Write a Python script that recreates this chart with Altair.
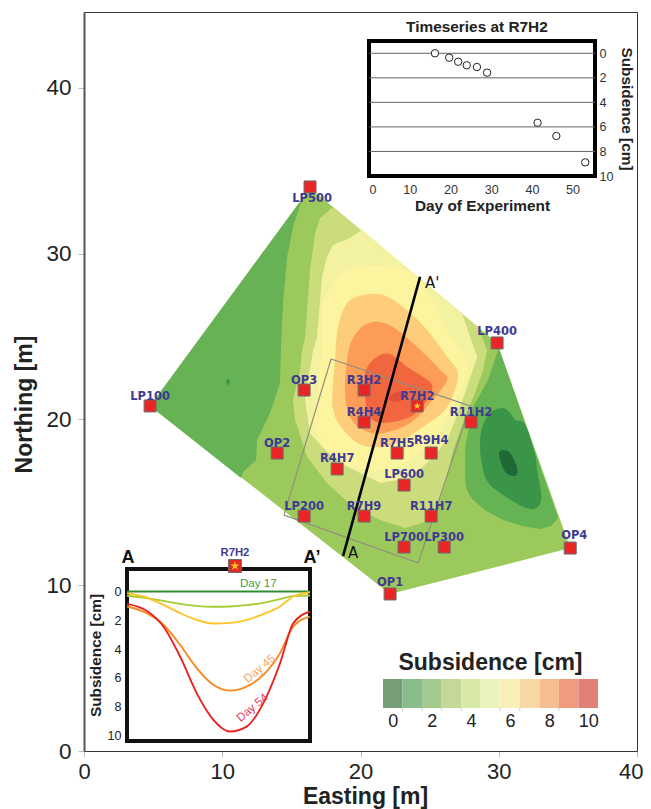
import altair as alt
import pandas as pd

SANS = "Liberation Sans"
LABEL = "DejaVu Sans"

# --- main map -------------------------------------------------------------
hull = [(16.35,33.96),(29.88,24.61),(35.17,12.24),(22.14,9.47),(4.78,20.81)]
dark_left = [(15.77,33.29),(15.12,31.60),(14.69,29.79),(14.40,27.02),(14.25,24.49),(14.18,22.19),
             (13.46,20.38),(12.52,18.76),(12.45,17.55),(11.51,16.83),(11.36,16.46),(4.78,20.81)]
spot = [(10.28,22.25),(10.42,22.43),(10.56,22.25),(10.42,22.07)]
dark_right = [(29.96,24.18),(29.23,22.37),(28.15,20.75),(27.57,18.33),(27.57,16.34),(27.71,15.68),(28.15,15.14),(29.09,14.47),
              (30.32,13.93),(31.69,13.57),(33.00,13.39),(33.79,13.57),(34.30,14.05),(29.88,24.61)]
darker_right = [(30.25,20.69),(29.23,20.26),(28.65,18.76),(29.02,16.52),(30.32,15.44),(32.27,14.59),
                (33.07,15.14),(32.78,16.95),(32.60,17.97),(31.90,19.70),(31.19,19.96),(30.83,20.38)]
darkest_right = [(30.25,18.15),(30.03,17.85),(30.46,16.83),(31.19,16.59),(31.33,17.07),(30.83,17.97)]
light_green = [(18.02,32.81),(28.51,25.57),(29.16,24.18),(28.87,22.98),(28.29,21.59),(27.57,20.14),
               (26.70,18.15),(26.19,16.34),(25.62,14.84),(24.67,13.81),(23.23,13.45),(21.42,13.93),
               (19.46,14.72),(17.58,16.16),(16.14,17.73),(15.27,19.96),(15.12,21.17),(15.63,22.98),
               (15.77,24.18),(15.99,24.97),(16.35,29.01),(16.72,31.24),(17.08,32.15)]
pale = [(20.12,31.42),(27.35,26.36),(28.44,23.76),(27.71,21.95),(26.85,19.96),(26.27,18.76),(25.04,17.55),
        (23.59,16.46),(21.42,16.16),(18.52,17.37),(17.22,18.33),(16.35,19.18),(15.99,21.17),(16.21,22.37),
        (16.57,24.18),(16.86,24.97),(17.22,28.59),(17.58,29.79),(18.02,30.52),(19.25,30.94)]
yellow = [(19.75,29.19),(22.36,29.19),(24.31,28.41),(26.27,25.39),(27.79,23.16),(27.06,21.47),(25.76,19.36),
          (24.31,18.03),(22.87,17.25),(21.20,16.95),(19.03,17.25),(17.58,18.15),(16.64,19.78),(16.79,21.17),
          (17.22,24.18),(17.29,26.90),(18.02,28.10),(18.52,28.71)]
light_orange = [(20.19,27.50),(19.03,27.02),(18.38,25.57),(18.16,23.58),(18.02,20.57),(19.25,18.94),(20.69,18.33),
                (22.65,18.58),(24.53,19.54),(26.27,20.75),(27.06,22.68),(26.27,23.76),(24.82,25.39),(23.08,26.78),
                (21.64,27.50)]
orange = [(20.91,25.87),(19.75,25.27),(19.10,24.00),(18.89,21.59),(19.25,20.14),(20.19,19.36),(21.64,19.18),
          (23.59,19.78),(25.04,20.99),(26.27,22.37),(25.76,22.98),(24.10,24.36),(22.36,25.57)]
red_orange = [(22.14,23.94),(21.06,23.70),(20.33,22.80),(20.33,21.35),(20.69,20.14),(21.64,19.78),(23.59,20.14),
              (24.82,21.17),(25.18,22.07),(24.31,22.68),(23.37,23.16)]
red = [(22.07,21.35),(22.65,21.65),(23.23,21.59),(23.23,21.29),(22.65,21.05),(22.14,21.17)]

stations = ["LP500","LP100","OP3","R3H2","R7H2","LP400","R4H4","R11H2","OP2","R7H5","R9H4","R4H7",
            "LP600","LP200","R7H9","R11H7","LP700","LP300","OP4","OP1"]
st_x = [16.35,4.78,15.92,20.26,24.10,29.88,20.26,28.00,13.97,22.65,25.11,18.31,23.15,15.92,20.26,25.11,23.15,26.05,35.17,22.14]
st_y = [34.02,20.81,21.77,21.77,20.81,24.61,19.84,19.84,17.97,17.97,17.97,17.01,16.04,14.17,14.17,14.17,12.30,12.30,12.24,9.47]
lb_x = [16.50,4.78,15.92,20.26,24.10,29.88,20.26,28.00,13.97,22.65,25.11,18.31,23.15,15.92,20.26,25.11,23.15,26.05,35.46,22.14]
lb_y = [33.29,21.35,22.32,22.32,21.35,25.27,20.39,20.39,18.52,18.52,18.70,17.61,16.65,14.72,14.72,14.72,12.85,12.85,12.97,10.13]

section = [(18.74,11.76),(24.31,28.59)]
frame_box = [(17.87,23.64),(27.93,20.81),(24.17,11.34),(14.47,14.23)]
section_labels = ["A","A'"]
section_lx = [19.46,25.18]
section_ly = [11.94,28.23]

# --- time-series inset ----------------------------------------------------
ts_day = [16.2,19.7,21.9,24.0,26.5,29.0,41.4,46.0,53.1]
ts_sub = [0.0,0.36,0.69,0.98,1.12,1.58,5.66,6.74,8.89]
ts_lines = [0,2,4,6,8]

# --- profile inset --------------------------------------------------------
prof_u = [0,1.90,3.52,5.13,6.74,8.35,9.96,11.57,13.19,14.80,16.09,17.70]
prof_17 = [0]*12
prof_a = [.30,.46,.65,.86,1.0,1.06,1.04,.95,.79,.53,.32,.28]
prof_b = [.12,.42,.93,1.50,1.97,2.22,2.18,1.97,1.57,1.04,.35,.05]
prof_45 = [1.04,1.50,2.31,3.70,5.32,6.48,6.88,6.60,5.79,4.28,2.43,1.74]
prof_54 = [.86,1.34,2.43,4.51,7.06,8.91,9.72,9.38,7.75,4.98,2.20,1.39]

# --- colour bar -----------------------------------------------------------
bar_colors = ["#739e78","#89bd8b","#a4c98f","#c4d999","#d8e8a8","#ecf2bc","#f8efb8","#f7d7a4","#f6bd90","#f09a7f","#e08078"]
bar_ticks = [0,2,4,6,8,10]
bar_edges = [0.5,1.5,2.5,3.5,5.5,6.5,8.5]

W, H = 553, 739
sx = alt.Scale(domain=[0,40], range=[0,W], nice=False, zero=False)
sy = alt.Scale(domain=[0,44.57], range=[H,0], nice=False, zero=False)
ax_x = alt.Axis(title="Easting [m]", orient="bottom", values=[0,10,20,30,40], grid=False, tickSize=6, tickColor="#bbbbbb",
                domainColor="#333333", domainWidth=1, labelFont=SANS, labelFontSize=22, labelColor="#222222",
                labelPadding=4, labelFlush=True, labelFlushOffset=6, titleFont=SANS, titleFontSize=23, titleFontWeight="bold",
                titleColor="#222222", titleX=281, titleY=52, titleBaseline="alphabetic")
ax_y = alt.Axis(title="Northing [m]", orient="left", values=[0,10,20,30,40], grid=False, tickSize=6, tickColor="#bbbbbb",
                domainColor="#555555", domainWidth=2, labelFont=SANS, labelFontSize=22.5, labelColor="#222222",
                labelPadding=7, titleFont=SANS, titleFontSize=23, titleFontWeight="bold",
                titleColor="#222222", titleX=-53, titleY=392, titleBaseline="alphabetic")

def poly(points, color, curve="linear-closed", axes=False, **kw):
    df = pd.DataFrame({"x":[p[0] for p in points], "y":[p[1] for p in points], "i":list(range(len(points)))})
    return alt.Chart(df).mark_line(filled=True, fill=color, strokeWidth=0, interpolate=curve, **kw).encode(
        x=alt.X("x:Q", scale=sx, axis=ax_x if axes else None),
        y=alt.Y("y:Q", scale=sy, axis=ax_y if axes else None),
        order=alt.Order("i:Q"))

SM = "cardinal-closed"
layers = [
    poly(hull, "#9cc95b", axes=True),
    poly(dark_left, "#67b255"),
    poly(spot, "#3b9548", SM),
    poly(dark_right, "#66b354"),
    poly(darker_right, "#3b9548", SM),
    poly(darkest_right, "#1f6a34", SM),
    poly(light_green, "#cbdc7c"),
    poly(pale, "#f3f2a0"),
    poly(yellow, "#fdf49f", SM),
    poly(light_orange, "#fdcd7c", SM),
    poly(orange, "#fd9c56", SM),
    poly(red_orange, "#f1663f", SM),
    poly(red, "#e2503a", SM),
]
box_df = pd.DataFrame({"x":[p[0] for p in frame_box], "y":[p[1] for p in frame_box], "i":[0,1,2,3]})
layers.append(alt.Chart(box_df).mark_line(interpolate="linear-closed", stroke="#8f8f80", strokeWidth=1.2).encode(
    x=alt.X("x:Q", scale=sx, axis=None), y=alt.Y("y:Q", scale=sy, axis=None), order=alt.Order("i:Q")))
sec_df = pd.DataFrame({"x":[p[0] for p in section], "y":[p[1] for p in section], "i":[0,1]})
layers.append(alt.Chart(sec_df).mark_line(stroke="black", strokeWidth=2.6).encode(
    x=alt.X("x:Q", scale=sx, axis=None), y=alt.Y("y:Q", scale=sy, axis=None), order=alt.Order("i:Q")))
seclab_df = pd.DataFrame({"x":section_lx, "y":section_ly, "t":section_labels})
layers.append(alt.Chart(seclab_df).mark_text(font=LABEL, fontSize=15, color="#111111", baseline="middle").encode(
    x=alt.X("x:Q", scale=sx, axis=None), y=alt.Y("y:Q", scale=sy, axis=None), text="t:N"))

st_df = pd.DataFrame({"name":stations, "x":st_x, "y":st_y, "lx":lb_x, "ly":lb_y})
layers.append(alt.Chart(st_df).mark_point(shape="square", size=144, filled=True, fill="#ea2525", stroke="#6e6e6e",
                                          strokeWidth=1, opacity=1).encode(
    x=alt.X("x:Q", scale=sx, axis=None), y=alt.Y("y:Q", scale=sy, axis=None)))
STAR = "M0,-1L0.225,-0.31L0.951,-0.309L0.363,0.118L0.588,0.809L0,0.382L-0.588,0.809L-0.363,0.118L-0.951,-0.309L-0.225,-0.31Z"
r7 = st_df[st_df.name=="R7H2"]
layers.append(alt.Chart(r7).mark_point(shape=STAR, size=64, filled=True, fill="#f7c81e", opacity=1, strokeWidth=0).encode(
    x=alt.X("x:Q", scale=sx, axis=None), y=alt.Y("y:Q", scale=sy, axis=None)))
layers.append(alt.Chart(st_df).mark_text(font=LABEL, fontSize=11.5, fontWeight="bold", color="#3f3a92", baseline="middle").encode(
    x=alt.X("lx:Q", scale=sx, axis=None), y=alt.Y("ly:Q", scale=sy, axis=None), text="name:N"))

# ---- time series inset
tx = alt.Scale(domain=[0,55.5], range=[285,511], nice=False, zero=False)
ty = alt.Scale(domain=[-1,10], range=[29,164], nice=False, zero=False)
t_frame = pd.DataFrame({"a":[0],"b":[55.5],"c":[-1],"d":[10]})
t_ax_x = alt.Axis(title="Day of Experiment", orient="bottom", offset=-575, values=[0,10,20,30,40,50], grid=False,
                  domain=False, ticks=False, labelFont=SANS, labelFontSize=12.6, labelColor="#333333", labelPadding=7,
                  titleFont=SANS, titleFontSize=15.4, titleFontWeight="bold", titleColor="#222222", titlePadding=3)
t_ax_y = alt.Axis(title="Subsidence [cm]", orient="right", offset=-42, values=[0,2,4,6,8,10], grid=False,
                  domain=False, ticks=False, labelFont=SANS, labelFontSize=12.6, labelColor="#333333", labelPadding=4,
                  titleFont=SANS, titleFontSize=15.4, titleFontWeight="bold", titleColor="#222222", titlePadding=5)
layers += [
    alt.Chart(t_frame).mark_rect(fill="white", stroke="black", strokeWidth=4).encode(
        x=alt.X("a:Q", scale=tx, axis=t_ax_x), x2="b:Q",
        y=alt.Y("c:Q", scale=ty, axis=t_ax_y), y2="d:Q"),
    alt.Chart(pd.DataFrame({"v":ts_lines,"a":[0]*5,"b":[55.5]*5})).mark_rule(color="#666666", strokeWidth=1).encode(
        x=alt.X("a:Q", scale=tx, axis=None), x2="b:Q", y=alt.Y("v:Q", scale=ty, axis=None)),
    alt.Chart(pd.DataFrame({"d":ts_day,"s":ts_sub})).mark_point(shape="circle", size=55, fill="white", filled=True,
              stroke="#222222", strokeWidth=1, opacity=1).encode(
        x=alt.X("d:Q", scale=tx, axis=None), y=alt.Y("s:Q", scale=ty, axis=None)),
    alt.Chart(pd.DataFrame({"d":[26.5],"s":[-2.14],"t":["Timeseries at R7H2"]})).mark_text(
        font=SANS, fontSize=15.4, fontWeight="bold", color="#222222", baseline="middle").encode(
        x=alt.X("d:Q", scale=tx, axis=None), y=alt.Y("s:Q", scale=ty, axis=None), text="t:N"),
]

# ---- profile inset
ax = alt.Scale(domain=[0,17.7], range=[43,226], nice=False, zero=False)
ay = alt.Scale(domain=[-1.56,10.38], range=[557,729], nice=False, zero=False)
a_frame = pd.DataFrame({"a":[0],"b":[17.7],"c":[-1.56],"d":[10.38]})
a_ax_y = alt.Axis(title="Subsidence [cm]", orient="left", offset=-43, values=[0,2,4,6,8,10], grid=False,
                  domain=False, ticks=False, labelFont=SANS, labelFontSize=12.6, labelColor="#222222", labelPadding=6,
                  titleFont=SANS, titleFontSize=15.4, titleFontWeight="bold", titleColor="#222222", titlePadding=3)
def curve(vals, color, width=1.9):
    return alt.Chart(pd.DataFrame({"u":prof_u,"v":vals})).mark_line(stroke=color, strokeWidth=width, interpolate="monotone").encode(
        x=alt.X("u:Q", scale=ax, axis=None), y=alt.Y("v:Q", scale=ay, axis=None))
def note(u, v, text, color, size=11.6, angle=0, weight="normal", font=SANS):
    return alt.Chart(pd.DataFrame({"u":[u],"v":[v],"t":[text]})).mark_text(
        font=font, fontSize=size, angle=angle, fontWeight=weight, color=color, baseline="middle").encode(
        x=alt.X("u:Q", scale=ax, axis=None), y=alt.Y("v:Q", scale=ay, axis=None), text="t:N")
mk = pd.DataFrame({"u":[10.44],"v":[-1.77]})
layers += [
    alt.Chart(a_frame).mark_rect(fill="white", stroke="#111111", strokeWidth=4).encode(
        x=alt.X("a:Q", scale=ax, axis=None), x2="b:Q",
        y=alt.Y("c:Q", scale=ay, axis=a_ax_y), y2="d:Q"),
    curve(prof_17, "#2e8b2e"), curve(prof_a, "#a6cc33"), curve(prof_b, "#fdc52a"),
    curve(prof_45, "#f58a1f"), curve(prof_54, "#e8231f"),
    note(12.70, -0.51, "Day 17", "#3d9b45"),
    note(12.86, 5.39, "Day 45", "#f5a65b", angle=320),
    note(12.15, 8.10, "Day 54", "#e43a5b", angle=320),
    note(0.1, -2.33, "A", "#111111", size=18, weight="bold"),
    note(17.9, -2.33, "A’", "#111111", size=18, weight="bold"),
    note(10.44, -2.67, "R7H2", "#3f3a92", size=11.3, weight="bold"),
    alt.Chart(mk).mark_point(shape="square", size=169, filled=True, fill="#e02a25", stroke="#6e6e6e", strokeWidth=1, opacity=1).encode(
        x=alt.X("u:Q", scale=ax, axis=None), y=alt.Y("v:Q", scale=ay, axis=None)),
    alt.Chart(mk).mark_point(shape=STAR, size=90, filled=True, fill="#f7c81e", opacity=1, strokeWidth=0).encode(
        x=alt.X("u:Q", scale=ax, axis=None), y=alt.Y("v:Q", scale=ay, axis=None)),
]

# ---- colour bar
bx = alt.Scale(domain=[-0.5,10.5], range=[299,514], nice=False, zero=False)
b_ax = alt.Axis(title=None, orient="bottom", offset=-43, values=bar_ticks, grid=False, domain=False, ticks=False,
                labelFont=SANS, labelFontSize=18, labelColor="#222222", labelPadding=4)
seg = pd.DataFrame({"lo":[i-0.5 for i in range(11)], "hi":[i+0.5 for i in range(11)], "c":bar_colors})
layers += [
    alt.Chart(seg).mark_rect().encode(
        x=alt.X("lo:Q", scale=bx, axis=b_ax), x2="hi:Q",
        y=alt.value(667), y2=alt.value(696),
        fill=alt.Fill("c:N", scale=None)),
    alt.Chart(pd.DataFrame({"e":bar_edges})).mark_rule(color="#cccccc", strokeWidth=1).encode(
        x=alt.X("e:Q", scale=bx, axis=None), y=alt.value(696), y2=alt.value(699)),
    alt.Chart(pd.DataFrame({"m":[5],"t":["Subsidence [cm]"]})).mark_text(
        font=SANS, fontSize=23, fontWeight="bold", color="#222222", baseline="middle").encode(
        x=alt.X("m:Q", scale=bx, axis=None), y=alt.value(651), text="t:N"),
]

chart = alt.layer(*layers).resolve_scale(x="independent", y="independent").properties(
    width=W, height=H, autosize=alt.AutoSizeParams(type="none"),
    padding={"left":76,"top":4,"right":6,"bottom":58}
).configure_view(stroke="#333333", strokeWidth=1)

chart.save("out.html", embed_options={"renderer": "svg", "actions": False})
